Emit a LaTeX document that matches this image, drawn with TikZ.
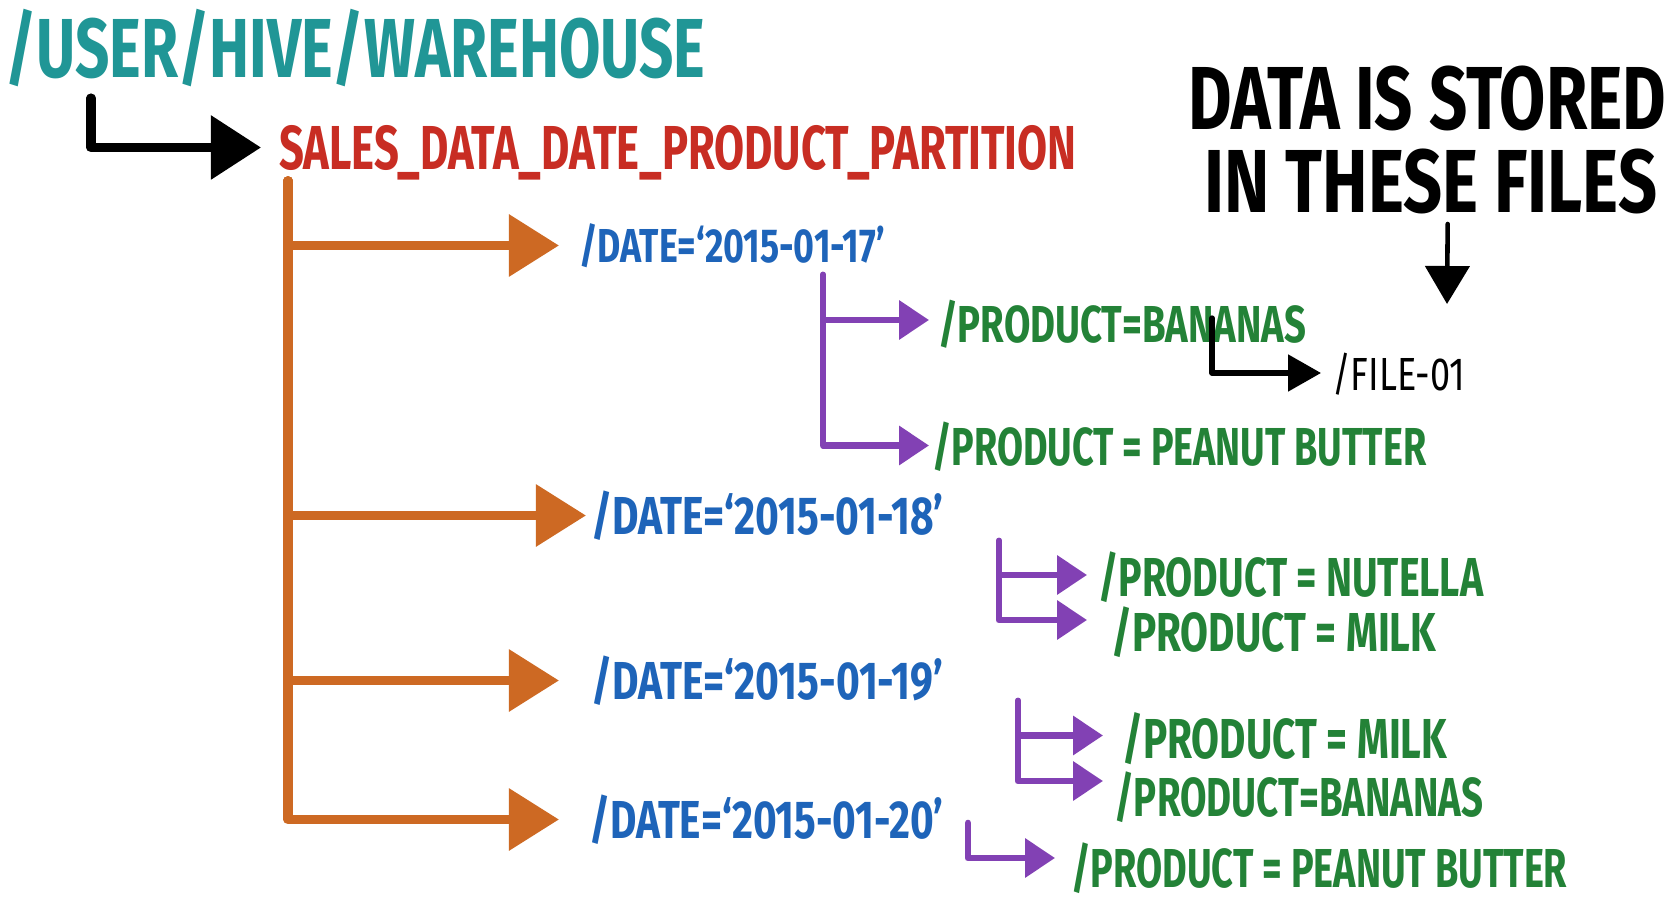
\documentclass[tikz,border=0pt]{standalone}
\usepackage{fontspec}
\setmainfont{Fira Sans}
\usepackage{graphicx}
\usetikzlibrary{arrows.meta,calc}
\newcommand{\fitt}[3]{\resizebox{#1}{#2}{\vphantom{H}\smash{#3}}}
\definecolor{cteal}{RGB}{32,150,150}
\definecolor{cred}{RGB}{200,45,35}
\definecolor{corange}{RGB}{205,105,35}
\definecolor{cblue}{RGB}{30,100,185}
\definecolor{cgreen}{RGB}{35,130,55}
\definecolor{cpurple}{RGB}{130,65,180}
\begin{document}
\begin{tikzpicture}[x=0.01cm,y=-0.01cm,
  txt/.style={inner sep=0pt, outer sep=0pt, anchor=base west, font=\bfseries},
  blkarrow/.style={draw=black, line width=2.6pt, line join=round, line cap=round, -{Triangle[length=0.5cm,width=0.62cm]}},
  ornarrow/.style={draw=corange, line width=2.7pt, line join=round, line cap=round, -{Triangle[length=0.5cm,width=0.6cm]}},
  purarrow/.style={draw=cpurple, line width=1.9pt, line join=round, line cap=round, -{Triangle[length=0.3cm,width=0.38cm]}},
  filearrow/.style={draw=black, line width=1.5pt, line join=round, line cap=round, -{Triangle[length=0.33cm,width=0.36cm]}},
  downarrow/.style={draw=black, line width=1.3pt, line cap=round, -{Triangle[length=0.38cm,width=0.44cm]}}
]
\useasboundingbox (0,0) rectangle (1671,909);
\clip (0,0) rectangle (1671,909);
\fill[white] (0,0) rectangle (1671,909);

% texts
\node[txt,text=cteal] (root) at (5,77) {\fitt{7.00cm}{0.58cm}{/USER/HIVE/WAREHOUSE}};
\node[txt,text=cred] (sales) at (279,169) {\fitt{7.97cm}{0.43cm}{SALES\_DATA\_DATE\_PRODUCT\_PARTITION}};

\node[txt,text=cblue] (d17) at (579,262) {\fitt{3.06cm}{0.33cm}{/DATE=‘2015-01-17’}};
\node[txt,text=cblue] (d18) at (591,534) {\fitt{3.52cm}{0.37cm}{/DATE=‘2015-01-18’}};
\node[txt,text=cblue] (d19) at (591,699) {\fitt{3.52cm}{0.37cm}{/DATE=‘2015-01-19’}};
\node[txt,text=cblue] (d20) at (589,838) {\fitt{3.54cm}{0.37cm}{/DATE=‘2015-01-20’}};

\node[txt,text=cgreen] (b1) at (938,342) {\fitt{3.68cm}{0.36cm}{/PRODUCT=BANANAS}};
\node[txt,text=cgreen] (pb1) at (932,465) {\fitt{4.94cm}{0.37cm}{/PRODUCT = PEANUT BUTTER}};
\node[txt,text=cgreen] (nu) at (1098,596) {\fitt{3.85cm}{0.38cm}{/PRODUCT = NUTELLA}};
\node[txt,text=cgreen] (m1) at (1111,651) {\fitt{3.25cm}{0.38cm}{/PRODUCT = MILK}};
\node[txt,text=cgreen] (m2) at (1122,758) {\fitt{3.25cm}{0.39cm}{/PRODUCT = MILK}};
\node[txt,text=cgreen] (b2) at (1114,816) {\fitt{3.69cm}{0.38cm}{/PRODUCT=BANANAS}};
\node[txt,text=cgreen] (pb2) at (1071,887) {\fitt{4.96cm}{0.38cm}{/PRODUCT = PEANUT BUTTER}};

\node[txt,text=black,font=\mdseries] (file) at (1332,390) {\fitt{1.33cm}{0.32cm}{/FILE-01}};

\node[txt,text=black] (l1) at (1188,129) {\fitt{4.78cm}{0.62cm}{DATA IS STORED}};
\node[txt,text=black] (l2) at (1204,212) {\fitt{4.53cm}{0.62cm}{IN THESE FILES}};

% connectors
\coordinate (k0) at (91,98);
\draw[blkarrow] (k0) |- ($(sales.west)+(-18,0)$);

\coordinate (o0) at (288,181);
\draw[ornarrow] (o0) |- ($(d17.west)+(-20,0)$);
\draw[ornarrow] (o0) |- ($(d18.west)+(-5,0)$);
\draw[ornarrow] (o0) |- ($(d19.west)+(-32,0)$);
\draw[ornarrow] (o0) |- ($(d20.west)+(-30,0)$);

\coordinate (p1) at (823,275);
\draw[purarrow] (p1) |- ($(b1.west)+(-9,-4)$);
\draw[purarrow] (p1) |- ($(pb1.west)+(-3,-1)$);
\coordinate (p2) at (999,541);
\draw[purarrow] (p2) |- ($(nu.west)+(-11,-2)$);
\draw[purarrow] (p2) |- ($(m1.west)+(-24,-12)$);
\coordinate (p3) at (1018,701);
\draw[purarrow] (p3) |- ($(m2.west)+(-19,-3)$);
\draw[purarrow] (p3) |- ($(b2.west)+(-11,-16)$);
\coordinate (p4) at (968,823);
\draw[purarrow] (p4) |- ($(pb2.west)+(-16,-10)$);

\coordinate (f0) at (1212,318);
\draw[filearrow] (f0) |- ($(file.west)+(-11,-1)$);

\coordinate (dtip) at (1447,304);
\draw[downarrow] ($(l2.south)+(17,12)$) -- (dtip);
\end{tikzpicture}
\end{document}
